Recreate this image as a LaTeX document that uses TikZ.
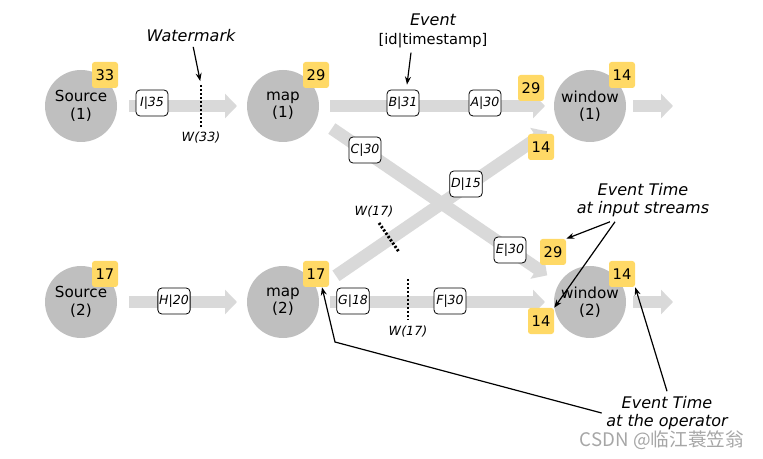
\documentclass[tikz,border=0pt]{standalone}
\usepackage{fontspec}
\setmainfont{DejaVu Sans}
\newfontfamily\cjkfont{Noto Sans CJK SC}
\usepackage{tikz}
\usetikzlibrary{arrows.meta}
\definecolor{flowgray}{HTML}{D9D9D9}
\definecolor{opgray}{HTML}{BFBFBF}
\definecolor{tsyellow}{HTML}{FFD966}

\begin{document}
\begin{tikzpicture}[x=0.75pt, y=-0.75pt,
        op/.style={circle, fill=opgray, minimum size=54pt, inner sep=0pt, outer sep=0pt, align=center, font=\fontsize{11.4}{13}\selectfont},
        ts/.style={rectangle, rounded corners=2pt, fill=tsyellow, minimum size=19.5pt, inner sep=0pt, font=\fontsize{11}{12}\selectfont},
        evbox/.style={rectangle, rounded corners=3pt, draw, fill=white, line width=0.6pt, minimum width=24pt, minimum height=19.5pt, inner sep=1pt, font=\fontsize{9.4}{10}\selectfont\itshape},
        flow/.style={draw=flowgray, line width=9.5pt, -{Triangle[length=9pt, width=18pt]}},
        wline/.style={line width=2.2pt, dash pattern=on 1.6pt off 1.4pt},
        lbl/.style={font=\fontsize{12}{14}\selectfont\itshape, align=center},
        wlbl/.style={font=\fontsize{9.5}{11}\selectfont\itshape},
        ptr/.style={line width=0.9pt, -{Stealth[length=6pt, width=4.5pt]}}
    ]
        \useasboundingbox (0,0) rectangle (763,459);

        % Operators
        \node[op] (s1) at (81, 106) {Source\\(1)};
        \node[op] (m1) at (283, 106) {map\\(1)};
        \node[op] (w1) at (590, 106) {window\\(1)};
        \node[op] (s2) at (81, 302) {Source\\(2)};
        \node[op] (m2) at (283, 302) {map\\(2)};
        \node[op] (w2) at (590, 302) {window\\(2)};
        \coordinate (o1) at (673, 106);
        \coordinate (o2) at (673, 302);

        % Streams
        \draw[flow, shorten <=9pt, shorten >=7.5pt] (s1) -- (m1);
        \draw[flow, shorten <=8.25pt, shorten >=6.75pt] (m1) -- (w1);
        \draw[flow, shorten <=5.25pt] (w1) -- (o1);
        \draw[flow, shorten <=9pt, shorten >=7.5pt] (s2) -- (m2);
        \draw[flow, shorten <=8.25pt, shorten >=6.75pt] (m2) -- (w2);
        \draw[flow, shorten <=5.25pt] (w2) -- (o2);
        \draw[flow, shorten <=13.6pt, shorten >=10.8pt] (m1.-20) -- (w2.149);
        \draw[flow, shorten <=17.6pt, shorten >=10.4pt] (m2.21) -- (w1.-151);

        % Events
        \node[evbox] (i35) at (152, 103) {I|35};
        \node[evbox] (b31) at (403, 103) {B|31};
        \node[evbox] (a30) at (485, 103) {A|30};
        \node[evbox] (c30) at (365, 150) {C|30};
        \node[evbox] (d15) at (466, 184) {D|15};
        \node[evbox] (e30) at (510, 250) {E|30};
        \node[evbox] (h20) at (174, 301) {H|20};
        \node[evbox] (g18) at (353, 301) {G|18};
        \node[evbox] (f30) at (450, 301) {F|30};

        % Event times
        \node[ts] (t33) at (105, 75) {33};
        \node[ts] (t29a) at (316, 75) {29};
        \node[ts] (t29b) at (531, 88) {29};
        \node[ts] (t14a) at (622, 75) {14};
        \node[ts] (t14b) at (541, 147) {14};
        \node[ts] (t17a) at (105, 274) {17};
        \node[ts] (t17b) at (316, 274) {17};
        \node[ts] (t29c) at (553, 252) {29};
        \node[ts] (t14c) at (541, 321) {14};
        \node[ts] (t14d) at (622, 274) {14};

        % Watermarks
        \coordinate (wa1) at (201, 85);
        \coordinate (wa2) at (201, 127);
        \coordinate (wb1) at (379, 223);
        \coordinate (wb2) at (399, 252);
        \coordinate (wc1) at (408, 279);
        \coordinate (wc2) at (408, 320);
        \draw[wline] (wa1) -- (wa2);
        \draw[wline] (wb1) -- (wb2);
        \draw[wline] (wc1) -- (wc2);
        \node[wlbl] (wa) at (201, 138) {W(33)};
        \node[wlbl] (wb) at (374, 212) {W(17)};
        \node[wlbl] (wc) at (408, 332) {W(17)};

        % Labels
        \node[lbl] (wmk) at (191, 36) {Watermark};
        \node[lbl] (evt) at (433, 31) {Event\\ {\upshape\fontsize{11}{13}\selectfont [id|timestamp]}};
        \node[lbl] (eti) at (643, 200) {Event Time\\at input streams};
        \node[lbl] (eto) at (667, 413) {Event Time\\at the operator};
        \coordinate (kink) at (335, 342);

        \draw[ptr, shorten >=3pt] (wmk) -- (wa1);
        \draw[ptr] ([xshift=-16.5pt]evt.south) -- ([xshift=3pt, yshift=3.75pt]b31.north);
        \draw[ptr] ([xshift=-24.75pt]eti.south) -- (t29c.north east);
        \draw[ptr] ([xshift=-21pt]eti.south) -- (t14c.north east);
        \draw[ptr] (eto.north) -- (t14d.south east);
        \draw[ptr] (eto.west) -- (kink) -- ([xshift=4.5pt]t17b.south);

        \node[text=gray!70, font=\cjkfont\fontsize{14}{16}\selectfont] (csdn) at (662, 440) {CSDN @临江蓑笠翁};
    \end{tikzpicture}
\end{document}
